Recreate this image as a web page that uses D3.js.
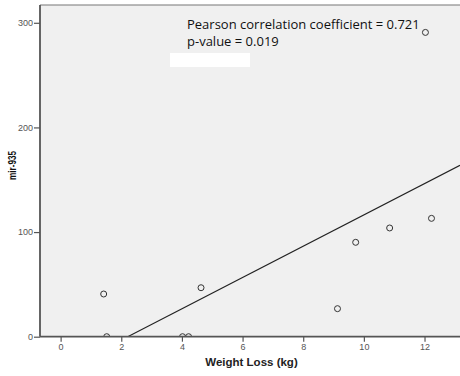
<!DOCTYPE html>
<html>
<head>
<meta charset="utf-8">
<script src="https://cdn.jsdelivr.net/npm/d3@7"></script>
<style>
  body { margin: 0; background: #fff; }
  svg { display: block; }
</style>
</head>
<body>
<svg id="chart" width="460" height="376"></svg>
<script>
const weightLoss = [1.42, 1.52, 4.02, 4.22, 4.63, 9.13, 9.73, 10.85, 12.23, 12.03];
const mir935 = [40.8, 0, 0, 0, 46.8, 26.8, 90.2, 103.9, 113.1, 290.8];
const xTicks = [0, 2, 4, 6, 8, 10, 12];
const yTicks = [0, 100, 200, 300];
const statLines = ["Pearson correlation coefficient = 0.721", "p-value = 0.019"];

const width = 460, height = 376;
const plotLeft = 40, plotTop = 5, plotBottom = 336.7;

const svg = d3.select("#chart");

const x = d3.scaleLinear().domain([-0.68, 13.17]).range([plotLeft, width]);
const y = d3.scaleLinear().domain([0, 317]).range([plotBottom, plotTop]);

svg.append("clipPath").attr("id", "plotClip")
    .append("rect")
    .attr("x", plotLeft).attr("y", plotTop)
    .attr("width", width - plotLeft).attr("height", plotBottom - plotTop);

// plot background
svg.append("rect")
    .attr("x", plotLeft).attr("y", plotTop)
    .attr("width", width - plotLeft).attr("height", plotBottom - plotTop)
    .attr("fill", "#f0f0f0");

// top border
svg.append("line")
    .attr("x1", plotLeft).attr("x2", width)
    .attr("y1", plotTop).attr("y2", plotTop)
    .attr("stroke", "#777").attr("stroke-width", 1.2);

// least squares fit line
const mx = d3.mean(weightLoss), my = d3.mean(mir935);
const sxy = d3.sum(weightLoss, (v, i) => (v - mx) * (mir935[i] - my));
const sxx = d3.sum(weightLoss, v => (v - mx) * (v - mx));
const slope = sxy / sxx;
const intercept = my - slope * mx;
const x0 = -intercept / slope;
const x1 = x.domain()[1];

const plot = svg.append("g").attr("clip-path", "url(#plotClip)");

plot.append("line")
    .attr("x1", x(x0)).attr("y1", y(0))
    .attr("x2", x(x1)).attr("y2", y(intercept + slope * x1))
    .attr("stroke", "#222").attr("stroke-width", 1.2);

// points
plot.append("g").selectAll("circle")
    .data(weightLoss)
    .enter()
    .append("circle")
    .attr("cx", d => x(d))
    .attr("cy", (d, i) => y(mir935[i]))
    .attr("r", 3)
    .attr("fill", "none")
    .attr("stroke", "#333")
    .attr("stroke-width", 1);

// axes
const xAxis = svg.append("g")
    .attr("transform", "translate(0," + plotBottom + ")")
    .call(d3.axisBottom(x).tickValues(xTicks).tickSize(5).tickPadding(2).tickSizeOuter(0));
const yAxis = svg.append("g")
    .attr("transform", "translate(" + plotLeft + ",0)")
    .call(d3.axisLeft(y).tickValues(yTicks).tickSize(6).tickPadding(1).tickSizeOuter(0));

[xAxis, yAxis].forEach(a => {
    a.select(".domain").attr("stroke", "#555").attr("stroke-width", 1.8);
    a.selectAll(".tick line").attr("stroke", "#555").attr("stroke-width", 1.2);
    a.selectAll(".tick text")
        .attr("fill", "#555")
        .attr("font-family", "Liberation Sans, Arial, sans-serif")
        .attr("font-size", 9);
});
yAxis.select(".domain").attr("d", "M0," + plotBottom + "V" + plotTop);
xAxis.select(".domain").attr("d", "M" + plotLeft + ",0H" + width);

// annotation
svg.append("g").selectAll("text")
    .data(statLines)
    .enter()
    .append("text")
    .attr("x", 187)
    .attr("y", (d, i) => 29 + i * 17)
    .attr("font-family", "Open Sans, sans-serif")
    .attr("font-size", 13)
    .attr("fill", "#111")
    .text(d => d);

svg.append("rect")
    .attr("x", 170).attr("y", 53)
    .attr("width", 80).attr("height", 14)
    .attr("fill", "#fff");

// axis titles
svg.append("text")
    .attr("x", 251.5).attr("y", 366)
    .attr("text-anchor", "middle")
    .attr("font-family", "Liberation Sans, Arial, sans-serif")
    .attr("font-weight", "bold")
    .attr("font-size", 11.5)
    .attr("fill", "#222")
    .text("Weight Loss (kg)");

svg.append("text")
    .attr("transform", "translate(15.5,165.5) rotate(-90)")
    .attr("text-anchor", "middle")
    .attr("font-family", "Liberation Sans, Arial, sans-serif")
    .attr("font-weight", "bold")
    .attr("font-size", 11.5)
    .attr("textLength", 29)
    .attr("lengthAdjust", "spacingAndGlyphs")
    .attr("fill", "#111")
    .text("mir-935");
</script>
</body>
</html>
